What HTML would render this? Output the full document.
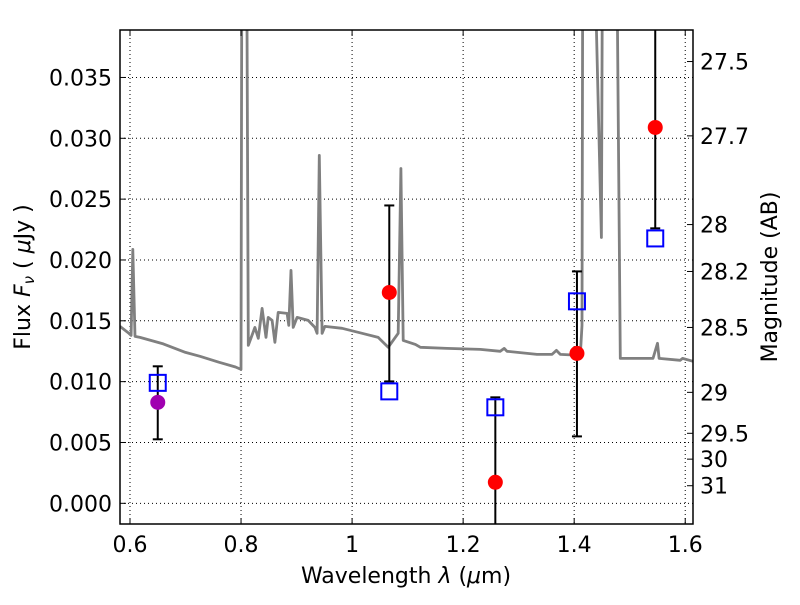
<!DOCTYPE html>
<html><head><meta charset="utf-8"><style>
body{margin:0;background:#fff;}
svg text{font-family:"DejaVu Sans","Liberation Sans",sans-serif;}
</style></head><body>
<svg id="c" width="800" height="600" xmlns="http://www.w3.org/2000/svg"></svg>
<script>
const specLam=[0.582,0.598,0.602,0.605,0.609,0.618,0.660,0.700,0.726,0.760,0.790,0.800,0.802,0.805,0.809,0.813,0.825,0.831,0.838,0.845,0.849,0.856,0.861,0.867,0.883,0.886,0.890,0.894,0.901,0.921,0.933,0.937,0.941,0.946,0.951,0.982,1.018,1.047,1.065,1.083,1.088,1.092,1.114,1.123,1.171,1.231,1.267,1.274,1.279,1.333,1.360,1.368,1.375,1.411,1.414,1.416,1.429,1.449,1.452,1.474,1.483,1.542,1.550,1.553,1.591,1.595,1.614];
const specFlux=[0.01454,0.01397,0.01380,0.02087,0.01372,0.01364,0.01310,0.01240,0.01208,0.01160,0.01120,0.01101,0.06,0.06,0.06,0.01298,0.01446,0.01356,0.01602,0.01364,0.01528,0.01503,0.01323,0.01569,0.01561,0.01462,0.01914,0.01446,0.01528,0.01503,0.01446,0.01397,0.02859,0.01397,0.01454,0.01438,0.01397,0.01364,0.01282,0.01397,0.02752,0.01339,0.01306,0.01282,0.01273,0.01265,0.01249,0.01273,0.01249,0.01224,0.01224,0.01257,0.01224,0.01216,0.01462,0.06,0.06,0.02185,0.06,0.06,0.01191,0.01191,0.01315,0.01191,0.01175,0.01191,0.01167];
const obsLam=[1.067,1.258,1.405,1.546];
const obsFlux=[0.01733,0.00173,0.01232,0.03089];
const errLo=[0.01002,-0.01,0.0055,0.0226];
const errHi=[0.02448,0.00871,0.01906,0.06];
const purpleLam=[0.65];
const purpleFlux=[0.0083];
const purpleLo=[0.00526];
const purpleHi=[0.01126];
const modelLam=[0.65,1.067,1.258,1.405,1.546];
const modelFlux=[0.0099,0.0092,0.00789,0.0166,0.02177];
const xTicks=[0.6,0.8,1.0,1.2,1.4,1.6];
const xTickLabels=["0.6","0.8","1","1.2","1.4","1.6"];
const yTicks=[0,0.005,0.01,0.015,0.02,0.025,0.03,0.035];
const yTickLabels=["0.000","0.005","0.010","0.015","0.020","0.025","0.030","0.035"];
const magTicks=[27.5,27.7,28,28.2,28.5,29,29.5,30,31];
const magLabels=["27.5","27.7","28","28.2","28.5","29","29.5","30","31"];

const L=120,R=693,T=30,B=524;
const xmin=0.582,xmax=1.614,ymin=-0.0017,ymax=0.0389;
const X=v=>L+(v-xmin)/(xmax-xmin)*(R-L);
const Y=v=>B-(v-ymin)/(ymax-ymin)*(B-T);
const svg=document.getElementById('c');
const NS='http://www.w3.org/2000/svg';
function mk(tag,attrs,parent){const e=document.createElementNS(NS,tag);for(const k in attrs)e.setAttribute(k,attrs[k]);(parent||svg).appendChild(e);return e;}
const defs=mk('defs',{});
const cp=mk('clipPath',{id:'clip'},defs);mk('rect',{x:L,y:T,width:R-L,height:B-T},cp);
const plot=mk('g',{'clip-path':'url(#clip)'});


xTicks.forEach(v=>{const g=mk('line',{x1:X(v),x2:X(v),y1:T,y2:B,stroke:'#000','stroke-width':1,'stroke-dasharray':'1,3'},plot);

});
yTicks.forEach(v=>{const g=mk('line',{x1:L,x2:R,y1:Y(v),y2:Y(v),stroke:'#000','stroke-width':1,'stroke-dasharray':'1,3'},plot);

});
let d=specLam.map((l,i)=>(i?'L':'M')+X(l).toFixed(1)+','+Y(specFlux[i]).toFixed(1)).join('');
const sp=mk('path',{d:d,fill:'none',stroke:'#808080','stroke-width':2.8,'stroke-linejoin':'round'},plot);


function errbar(l,lo,hi){const x=X(l);
const e=mk('line',{x1:x,x2:x,y1:Y(lo),y2:Y(hi),stroke:'#000','stroke-width':2},plot);


[lo,hi].forEach(v=>{const c=mk('line',{x1:x-5,x2:x+5,y1:Y(v),y2:Y(v),stroke:'#000','stroke-width':2},plot);

});}
purpleLam.forEach((l,i)=>errbar(l,purpleLo[i],purpleHi[i]));
obsLam.forEach((l,i)=>errbar(l,errLo[i],errHi[i]));
modelLam.forEach((l,i)=>{const s=mk('rect',{x:X(l)-8,y:Y(modelFlux[i])-8,width:16,height:16,fill:'none',stroke:'#0000ff','stroke-width':2},plot);

});
purpleLam.forEach((l,i)=>{const c=mk('circle',{cx:X(l),cy:Y(purpleFlux[i]),r:7.5,fill:'#a000b0'},plot);

});
obsLam.forEach((l,i)=>{const c=mk('circle',{cx:X(l),cy:Y(obsFlux[i]),r:7.5,fill:'#ff0000'},plot);

});
const fr=mk('rect',{x:L,y:T,width:R-L,height:B-T,fill:'none',stroke:'#000','stroke-width':1.5});


xTicks.forEach((v,i)=>{const x=X(v);
mk('line',{x1:x,x2:x,y1:B,y2:B-6,stroke:'#000'});mk('line',{x1:x,x2:x,y1:T,y2:T+6,stroke:'#000'});
const t=mk('text',{x:x,y:B+28,'font-size':22,'text-anchor':'middle'});t.textContent=xTickLabels[i];

});
yTicks.forEach((v,i)=>{const y=Y(v);
mk('line',{x1:L,x2:L+6,y1:y,y2:y,stroke:'#000'});
const t=mk('text',{x:L-8,y:y+8,'font-size':22,'text-anchor':'end'});t.textContent=yTickLabels[i];

});
magTicks.forEach((m,i)=>{const y=Y(Math.pow(10,(23.9-m)/2.5));
mk('line',{x1:R,x2:R-6,y1:y,y2:y,stroke:'#000'});
const t=mk('text',{x:R+7,y:y+8,'font-size':22});t.textContent=magLabels[i];

});
const xt=mk('text',{x:406,y:583,'font-size':22,'text-anchor':'middle','xml:space':'preserve'});
xt.innerHTML='Wavelength  <tspan font-style="italic">λ</tspan> (<tspan font-style="italic">μ</tspan>m)';


const yt=mk('text',{x:0,y:0,'font-size':22,'text-anchor':'middle',transform:'translate(30,277) rotate(-90)'});
yt.innerHTML='Flux  <tspan font-style="italic">F</tspan><tspan font-style="italic" font-size="15" dy="4">ν</tspan><tspan dy="-4">  ( </tspan><tspan font-style="italic">μ</tspan>Jy )';


const rt=mk('text',{x:0,y:0,'font-size':22,'text-anchor':'middle',transform:'translate(777,277) rotate(-90)'});rt.textContent='Magnitude (AB)';


</script>
</body></html>
